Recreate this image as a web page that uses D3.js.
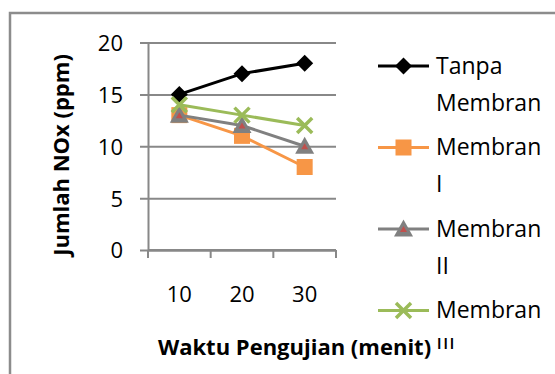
<!DOCTYPE html>
<html>
<head>
<meta charset="utf-8">
<script src="https://cdn.jsdelivr.net/npm/d3@7"></script>
<style>
  html, body { margin: 0; padding: 0; background: #fff; }
  svg { display: block; font-family: "Open Sans", sans-serif; }
</style>
</head>
<body>
<svg id="chart" width="555" height="374"></svg>
<script>
// data
const categories = ["10", "20", "30"];
const seriesNames = ["Tanpa Membran", "Membran I", "Membran II", "Membran III"];
const tanpaMembran = [15, 17, 18];
const membranI = [13, 11, 8];
const membranII = [13, 12, 10];
const membranIII = [14, 13, 12];
const yTicks = [0, 5, 10, 15, 20];
const xTitle = "Waktu Pengujian (menit)";
const yTitle = "Jumlah NOx (ppm)";

const seriesValues = [tanpaMembran, membranI, membranII, membranIII];
const colors = ["#000000", "#F79646", "#808080", "#9BBB59"];
const markers = ["diamond", "square", "triangle", "cross"];

const area = { left: 148, right: 336, top: 42.5, bottom: 250 };
const gridColor = "#888888";

const svg = d3.select("#chart");

// bingkai
svg.append("rect")
  .attr("x", 10).attr("y", 13)
  .attr("width", 600).attr("height", 400)
  .attr("fill", "#fff")
  .attr("stroke", "#8c8c8c")
  .attr("stroke-width", 2.5);

const x = d3.scaleBand()
  .domain(categories)
  .range([area.left, area.right]);

const y = d3.scaleLinear()
  .domain([0, 20])
  .range([area.bottom, area.top]);

// grid + sumbu Y
const gy = svg.append("g")
  .attr("transform", `translate(${area.left},0)`)
  .call(d3.axisLeft(y).tickValues(yTicks).tickSize(-(area.right - area.left)).tickPadding(17));
gy.select(".domain").attr("stroke", gridColor).attr("stroke-width", 2);
gy.selectAll(".tick line").attr("stroke", gridColor).attr("stroke-width", 2).attr("x1", -8);
gy.selectAll(".tick text")
  .attr("x", -25)
  .attr("dy", "0.36em")
  .attr("fill", "#000")
  .style("font-size", "22px")
  .style("font-family", "'Open Sans', sans-serif");

// sumbu X
const gx = svg.append("g")
  .attr("transform", `translate(0,${area.bottom})`)
  .call(d3.axisBottom(x).tickSize(0).tickPadding(0));
gx.select(".domain").remove();
gx.selectAll(".tick text")
  .attr("y", 52)
  .attr("dy", 0)
  .attr("fill", "#000")
  .style("font-size", "22px")
  .style("font-family", "'Open Sans', sans-serif");

// tick kecil di batas kategori
const bounds = categories.map(c => x(c)).concat([x.range()[1]]);
svg.append("g").selectAll("line")
  .data(bounds)
  .enter()
  .append("line")
  .attr("x1", d => d).attr("x2", d => d)
  .attr("y1", area.bottom).attr("y2", area.bottom + 8)
  .attr("stroke", gridColor)
  .attr("stroke-width", 2);
svg.append("line")
  .attr("x1", area.left).attr("x2", area.right)
  .attr("y1", area.bottom).attr("y2", area.bottom)
  .attr("stroke", gridColor).attr("stroke-width", 2);

// judul sumbu
svg.append("text")
  .attr("x", 294.5).attr("y", 355)
  .attr("text-anchor", "middle")
  .style("font-size", "22px")
  .style("font-weight", "bold")
  .text(xTitle);

svg.append("text")
  .attr("transform", "translate(69,155) rotate(-90)")
  .attr("text-anchor", "middle")
  .style("font-size", "22px")
  .style("font-weight", "bold")
  .text(yTitle);

// penanda
function drawMarker(g, type, cx, cy, color) {
  if (type === "diamond") {
    g.append("path")
      .attr("d", `M${cx},${cy - 8.5}L${cx + 8.5},${cy}L${cx},${cy + 8.5}L${cx - 8.5},${cy}Z`)
      .attr("fill", color);
  } else if (type === "square") {
    g.append("rect")
      .attr("x", cx - 8).attr("y", cy - 8)
      .attr("width", 16).attr("height", 16)
      .attr("fill", color);
  } else if (type === "triangle") {
    g.append("path")
      .attr("d", `M${cx},${cy - 9.5}L${cx + 9.5},${cy + 7.5}L${cx - 9.5},${cy + 7.5}Z`)
      .attr("fill", color);
    g.append("path")
      .attr("d", `M${cx},${cy - 3}L${cx + 3.5},${cy + 3}L${cx - 3.5},${cy + 3}Z`)
      .attr("fill", "#C0504D");
  } else if (type === "cross") {
    g.append("path")
      .attr("d", `M${cx - 7.5},${cy - 7.5}L${cx + 7.5},${cy + 7.5}M${cx + 7.5},${cy - 7.5}L${cx - 7.5},${cy + 7.5}`)
      .attr("stroke", color)
      .attr("stroke-width", 3.5)
      .attr("fill", "none");
  }
}

const line = d3.line()
  .x((d, i) => x(categories[i]) + x.bandwidth() / 2)
  .y(d => y(d));

seriesValues.forEach((vals, s) => {
  const g = svg.append("g");
  g.append("path")
    .datum(vals)
    .attr("d", line)
    .attr("fill", "none")
    .attr("stroke", colors[s])
    .attr("stroke-width", 3);
  vals.forEach((v, i) => {
    drawMarker(g, markers[s], x(categories[i]) + x.bandwidth() / 2, y(v), colors[s]);
  });
});

// legenda (teks terpotong di bawah seperti Excel)
svg.append("clipPath").attr("id", "legendClip")
  .append("rect").attr("x", 360).attr("y", 20).attr("width", 200).attr("height", 329);

const legend = svg.append("g").attr("clip-path", "url(#legendClip)");
seriesNames.forEach((name, s) => {
  const ly = 66 + s * 81.5;
  legend.append("line")
    .attr("x1", 378).attr("x2", 429)
    .attr("y1", ly).attr("y2", ly)
    .attr("stroke", colors[s])
    .attr("stroke-width", 3);
  drawMarker(legend, markers[s], 403.5, ly, colors[s]);
  const words = name.split(" ");
  words.forEach((w, k) => {
    legend.append("text")
      .attr("x", 436)
      .attr("y", ly + 7.5 + k * 37)
      .style("font-size", "23px")
      .text(w);
  });
});
</script>
</body>
</html>
